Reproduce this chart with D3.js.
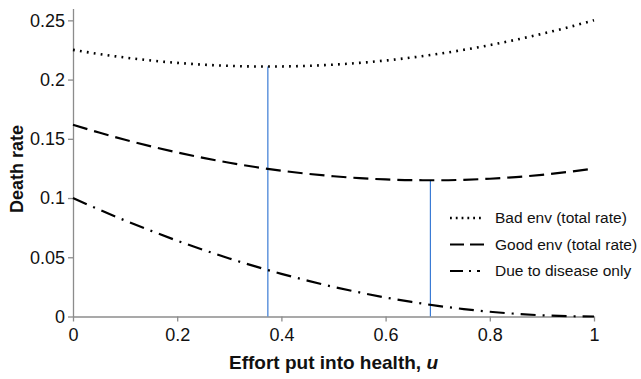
<!DOCTYPE html>
<html><head><meta charset="utf-8">
<script src="https://cdn.jsdelivr.net/npm/d3@7"></script>
<style>
body{margin:0;background:#fff;}
svg{display:block;font-family:"Liberation Sans",Arial,sans-serif;}
</style></head>
<body>
<svg id="c" width="641" height="379"></svg>
<script>
const effort = [0,0.05,0.1,0.15,0.2,0.25,0.3,0.35,0.4,0.45,0.5,0.55,0.6,0.65,0.7,0.75,0.8,0.85,0.9,0.95,1];
const badEnv = [0.2251,0.2216,0.2186,0.2161,0.2141,0.2126,0.2116,0.2111,0.2111,0.2116,0.2126,0.2141,0.2161,0.2186,0.2216,0.2251,0.2291,0.2336,0.2386,0.2441,0.2501];
const goodEnv = [0.1619,0.1553,0.1492,0.1436,0.1385,0.1339,0.1298,0.1262,0.1231,0.1205,0.1184,0.1168,0.1157,0.1151,0.1150,0.1154,0.1163,0.1177,0.1196,0.1220,0.1249];
const disease = [0.1,0.0903,0.081,0.0723,0.064,0.0563,0.049,0.0423,0.036,0.0303,0.025,0.0203,0.016,0.0123,0.009,0.0063,0.004,0.0023,0.001,0.0003,0];
const optimumU = [0.374, 0.686];
const optimumRate = [0.2111, 0.1150];
const xTicks = [0,0.2,0.4,0.6,0.8,1];
const xTickLabels = ["0","0.2","0.4","0.6","0.8","1"];
const yTicks = [0,0.05,0.1,0.15,0.2,0.25];
const yTickLabels = ["0","0.05","0.1","0.15","0.2","0.25"];
const seriesNames = ["Bad env (total rate)","Good env (total rate)","Due to disease only"];

const svg = d3.select("#c");
const x = d3.scaleLinear().domain([0,1]).range([73,594]);
const y = d3.scaleLinear().domain([0,0.26]).range([316.5,8.5]);
const axisColor = "#8c8c8c";

const gx = svg.append("g").attr("transform","translate(0,316.5)")
  .call(d3.axisBottom(x).tickValues(xTicks).tickFormat((d,i)=>xTickLabels[i]).tickSize(5).tickSizeOuter(0).tickPadding(7));
const gy = svg.append("g").attr("transform","translate(73,0)")
  .call(d3.axisLeft(y).tickValues(yTicks).tickFormat((d,i)=>yTickLabels[i]).tickSize(5).tickSizeOuter(0).tickPadding(3));
[gx,gy].forEach(g=>{
  g.selectAll("path,line").attr("stroke",axisColor).attr("stroke-width",1.3);
  g.selectAll("text").attr("fill","#111").attr("font-size",18).attr("font-family","Liberation Sans, Arial, sans-serif");
});

svg.append("g").selectAll("line").data(optimumU).join("line")
  .attr("x1",d=>x(d)).attr("x2",d=>x(d))
  .attr("y1",y(0)).attr("y2",(d,i)=>y(optimumRate[i]))
  .attr("stroke","#3a7bd5").attr("stroke-width",1.2);

const styles = [
  {data:badEnv, dash:"1.8,5.2", w:2.6},
  {data:goodEnv, dash:"15,7", w:2.2},
  {data:disease, dash:"15,7,2,7", w:2.2}
];
const line = d3.line().curve(d3.curveMonotoneX);
styles.forEach(s=>{
  svg.append("path")
    .attr("d", line(effort.map((u,i)=>[x(u), y(s.data[i])])))
    .attr("fill","none").attr("stroke","#000")
    .attr("stroke-width",s.w).attr("stroke-dasharray",s.dash);
});

const leg = svg.append("g");
seriesNames.forEach((n,i)=>{
  const yy = 218 + i*26.5;
  leg.append("line").attr("x1",450).attr("x2",484).attr("y1",yy).attr("y2",yy)
    .attr("stroke","#000").attr("stroke-width",styles[i].w)
    .attr("stroke-dasharray", i===0 ? "1.8,4" : (i===1 ? "14,6" : "13,6,2,6,3"));
  leg.append("text").attr("x",495).attr("y",yy).attr("dy","0.35em")
    .attr("font-size",15.5).attr("fill","#111").text(n);
});

const xt = svg.append("text").attr("x",(x(0)+x(1))/2).attr("y",369)
  .attr("text-anchor","middle").attr("font-size",19).attr("font-weight","bold").attr("fill","#111");
xt.append("tspan").text("Effort put into health, ");
xt.append("tspan").attr("font-style","italic").text("u");
svg.append("text").attr("transform","translate(23,169) rotate(-90)")
  .attr("text-anchor","middle").attr("font-size",18).attr("font-weight","bold").attr("fill","#111")
  .text("Death rate");
</script>
</body></html>
